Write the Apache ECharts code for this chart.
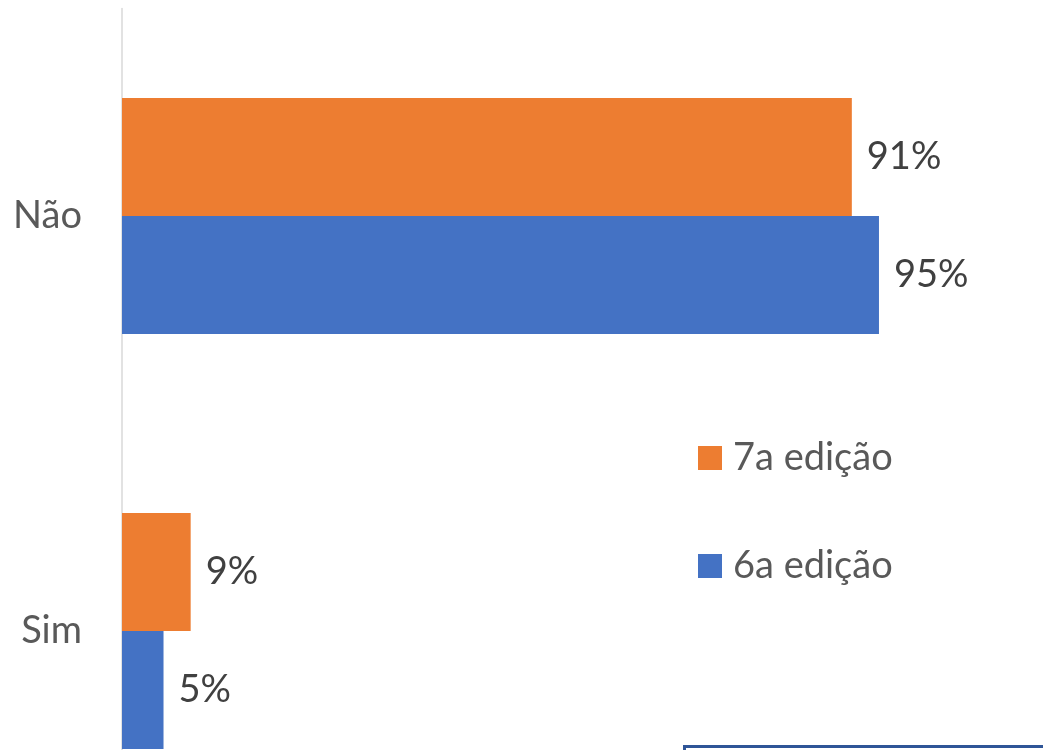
<!DOCTYPE html>
<html>
<head>
<meta charset="utf-8">
<script src="https://cdn.jsdelivr.net/npm/echarts@6/dist/echarts.min.js"></script>
<style>html,body{margin:0;padding:0;background:#fff;overflow:hidden;}#c{width:1043px;height:900px;}</style>
</head>
<body>
<div id="c"></div>
<script>
const categories = ['Não', 'Sim'];
const seriesNames = ['7a edição', '6a edição'];
const values7 = [91.4, 8.6];
const values6 = [94.8, 5.2];
const colors = ['#ED7D31', '#4472C4'];
const FONT = 'Lato';
const FS = 38;

const chart = echarts.init(document.getElementById('c'));
const labelCfg = {
  show: true, position: 'right', distance: 15,
  fontSize: FS, color: '#404040', fontFamily: FONT,
  formatter: p => Math.round(p.value) + '%'
};
chart.setOption({
  animation: false,
  textStyle: { fontFamily: FONT },
  grid: { left: 122, width: 798.5, top: 8.5, height: 830 },
  xAxis: { type: 'value', min: 0, max: 100, show: false },
  yAxis: {
    type: 'category', data: categories, inverse: true,
    axisLine: { lineStyle: { color: '#D9D9D9', width: 1.5 } },
    axisTick: { show: false },
    axisLabel: { fontSize: FS, color: '#595959', fontFamily: FONT, margin: 40 }
  },
  legend: {
    orient: 'vertical', left: 693, top: 434,
    itemWidth: 24, itemHeight: 24, itemGap: 70,
    icon: 'rect',
    textStyle: { fontSize: FS, color: '#595959', fontFamily: FONT, lineHeight: 24, padding: [0, 0, 0, 6] },
    data: seriesNames
  },
  series: [
    { name: seriesNames[0], type: 'bar', data: values7, barWidth: 118, barGap: '0%', itemStyle: { color: colors[0] }, label: labelCfg },
    { name: seriesNames[1], type: 'bar', data: values6, barWidth: 118, barGap: '0%', itemStyle: { color: colors[1] }, label: labelCfg }
  ],
  graphic: [{
    type: 'rect', left: 683, top: 745,
    shape: { width: 420, height: 100 },
    style: { fill: '#fff', stroke: '#2F5597', lineWidth: 3 }
  }]
});
</script>
</body>
</html>
